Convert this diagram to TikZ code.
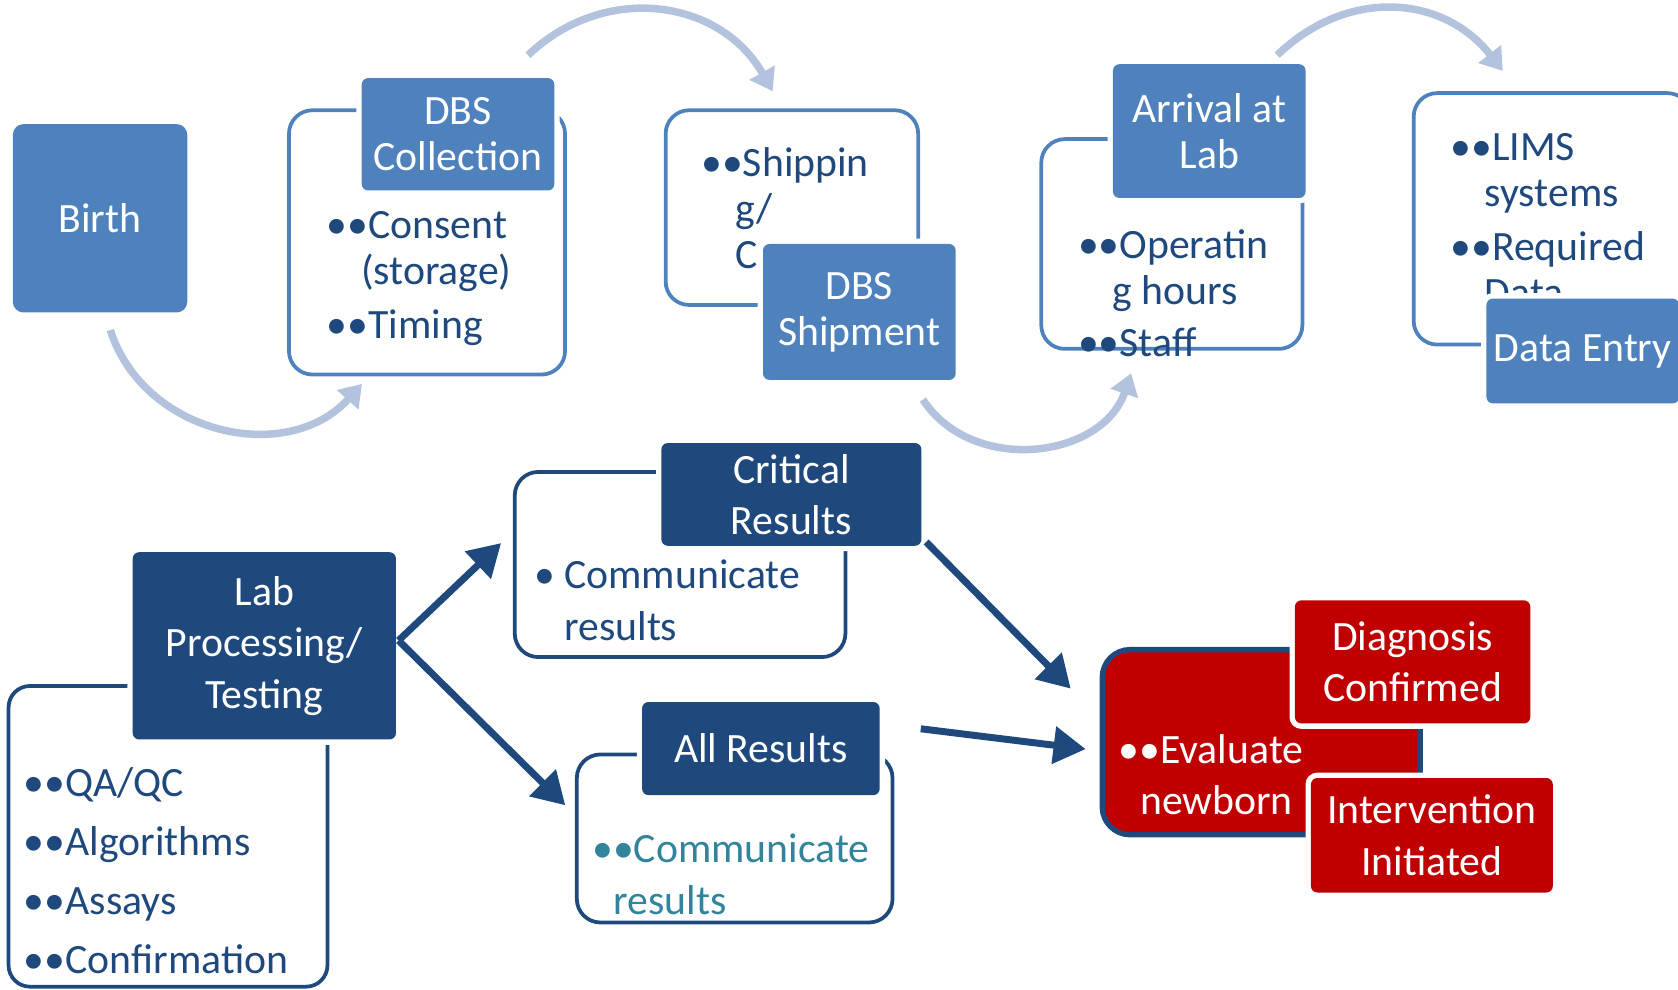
\documentclass[tikz,border=0pt]{standalone}
\usepackage{fontspec}
\setmainfont{Carlito}
\usetikzlibrary{arrows.meta,calc}

\definecolor{midblue}{HTML}{4F81BD}
\definecolor{darkblue}{HTML}{1F497D}
\definecolor{paleblue}{HTML}{B3C3DE}
\definecolor{alertred}{HTML}{C00000}
\definecolor{tealtext}{HTML}{31849B}

\newcommand{\twobul}{\char"2022\relax\char"2022\relax}

\tikzset{
  toprow/.style={font=\fontsize{19.5pt}{21.5pt}\selectfont},
  lowrow/.style={font=\fontsize{19.5pt}{24pt}\selectfont},
  outerbox/.style={draw=midblue, line width=1.75pt, rounded corners=11pt, inner sep=0pt},
  headbox/.style={fill=midblue, text=white, rounded corners=3pt, align=center,
    inner sep=0pt, preaction={draw=white, line width=5pt}},
  listtext/.style={anchor=north west, inner sep=0pt, align=left, text=darkblue},
  flowarc/.style={draw=paleblue, line width=3.5pt, -{Triangle[width=13pt,length=10pt]}},
  pointer/.style={draw=darkblue, line width=3.25pt, -{Triangle[width=17pt,length=15pt]}}
}

\begin{document}
\begin{tikzpicture}[x=0.5pt,y=-0.5pt]
\useasboundingbox (0,0) rectangle (1568,925);

% Birth
\node[headbox, rounded corners=5pt, minimum width=81.5pt, minimum height=88pt, toprow]
  (birth) at (93.5,204) {Birth};

% DBS collection
\node[outerbox, minimum width=129pt, minimum height=123.5pt] (collbox) at (399,226.5) {};
\node[listtext, toprow] (colltext) at (305,197)
  {\twobul Consent\\\hspace*{16pt}(storage)\\[4pt]\twobul Timing};
\node[headbox, minimum width=90pt, minimum height=52.5pt, toprow]
  (colltitle) at (428,125.5) {DBS\\Collection};

% DBS shipment
\node[outerbox, minimum width=118pt, minimum height=91pt] (shipbox) at (740,194) {};
\node[listtext, toprow] (shiptext) at (655,137)
  {\twobul Shippin\\\hspace*{16pt}g/\\\hspace*{16pt}C};
\node[headbox, minimum width=90pt, minimum height=63.5pt, toprow]
  (shiptitle) at (803,291.5) {DBS\\Shipment};

% Arrival at lab
\node[outerbox, minimum width=122pt, minimum height=98pt] (arrbox) at (1095,228) {};
\node[listtext, toprow] (arrtext) at (1007,214)
  {\twobul Operatin\\\hspace*{16pt}g hours\\[3pt]\twobul Staff};
\node[headbox, minimum width=90pt, minimum height=62.5pt, toprow]
  (arrtitle) at (1130,122.5) {Arrival at\\Lab};

% Data entry
\node[outerbox, minimum width=129.5pt, minimum height=117.5pt] (limsbox) at (1450.5,204.5) {};
\node[listtext, toprow] (limstext) at (1355,124)
  {\twobul LIMS\\\hspace*{16pt}systems\\[4pt]\twobul Required\\\hspace*{16pt}Data};
\node[headbox, minimum width=90pt, minimum height=49pt, toprow]
  (datatitle) at (1479,328) {Data Entry};

% Lab processing
\node[outerbox, draw=darkblue, rounded corners=10pt, minimum width=149pt, minimum height=140.5pt]
  (labbox) at (157,781.5) {};
\node[listtext, lowrow] (labtext) at (22,717)
  {\twobul QA/QC\\[3.5pt]\twobul Algorithms\\[3.5pt]\twobul Assays\\[3.5pt]\twobul Confirmation};
\node[headbox, fill=darkblue, minimum width=123pt, minimum height=87.5pt, lowrow]
  (labtitle) at (247,603.5) {\raisebox{-2pt}{\parbox{110pt}{\centering Lab\\Processing/\\Testing}}};

% Critical results
\node[outerbox, draw=darkblue, minimum width=154.5pt, minimum height=86.5pt] (critbox) at (635.5,527.5) {};
\node[listtext, lowrow] (crittext) at (499,523)
  {\makebox[14pt][l]{\char"2022\relax}Communicate\\\hspace*{14pt}results};
\node[headbox, fill=darkblue, minimum width=121.5pt, minimum height=48pt, lowrow]
  (crittitle) at (739.5,462) {Critical\\Results};

% All results
\node[outerbox, draw=darkblue, minimum width=147.5pt, minimum height=78.5pt] (allbox) at (686.5,783.5) {};
\node[listtext, lowrow, text=tealtext] (alltext) at (553,779)
  {\twobul Communicate\\\hspace*{10pt}results};
\node[headbox, fill=darkblue, minimum width=111pt, minimum height=43.5pt, lowrow]
  (alltitle) at (711,699.5) {All Results};

% Evaluate newborn
\node[draw=darkblue, fill=alertred, line width=2.5pt, rounded corners=13pt, inner sep=0pt,
  minimum width=148.5pt, minimum height=86.5pt] (evalbox) at (1178.5,693.5) {};
\node[listtext, lowrow, text=white] (evaltext) at (1045,686)
  {\twobul Evaluate\\\hspace*{10pt}newborn};
\node[headbox, fill=alertred, minimum width=110pt, minimum height=57.5pt, lowrow]
  (diagtitle) at (1320,618.5) {Diagnosis\\Confirmed};
\node[headbox, fill=alertred, minimum width=113pt, minimum height=53.5pt, lowrow]
  (intvtitle) at (1338,780.5) {Intervention\\Initiated};

% curved steps along the top
\draw[flowarc] ($(birth.south)+(9.5,16)$) to[bend right=60, looseness=1.1] ($(collbox.south west)+(70,7)$);
\draw[flowarc] ($(colltitle.north east)+(-25,-21)$) to[bend left=52, looseness=1.1] ($(shipbox.north)+(-18,-16)$);
\draw[flowarc] ($(shiptitle.south east)+(-31,18)$) to[bend right=64, looseness=1.1] ($(arrbox.south)+(-38,21)$);
\draw[flowarc] ($(arrtitle.north east)+(-27,-8)$) to[bend left=48, looseness=1.1] ($(limsbox.north west)+(85,-19)$);

% result arrows
\draw[pointer] ($(labtitle.east)+(2,-5)$) -- ($(critbox.west)+(-11,-20)$);
\draw[pointer] ($(labtitle.east)+(2,-5)$) -- ($(allbox.west)+(-9,-31)$);
\draw[pointer] ($(crittitle.south east)+(4,-4)$) -- ($(evalbox.north west)+(-27,39)$);
\draw[pointer] ($(alltitle.east)+(38,-18.5)$) -- ($(evalbox.west)+(-13,6.5)$);

\end{tikzpicture}
\end{document}
